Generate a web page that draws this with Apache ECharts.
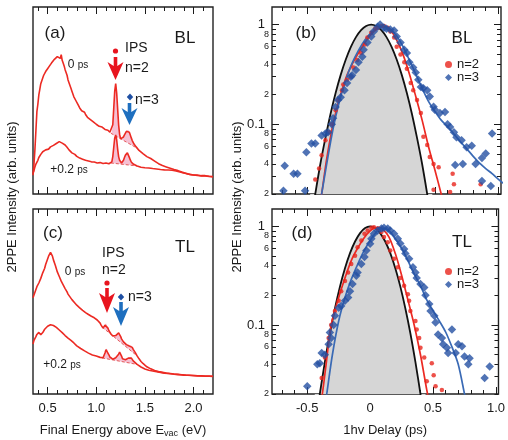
<!DOCTYPE html>
<html><head><meta charset="utf-8">
<script src="https://cdn.jsdelivr.net/npm/echarts@6/dist/echarts.min.js"></script>
<style>html,body{margin:0;padding:0;background:#fff}#c{width:508px;height:440px}</style>
</head><body><div id="c"></div>
<script>
// ---- 2PPE spectra: [final energy above Evac (eV), intensity (arb. units)]
const specBL0 = [[0.35,0.10],[0.36,0.16],[0.37,0.24],[0.38,0.34],[0.39,0.44],[0.40,0.48],[0.41,0.53],[0.42,0.56],[0.43,0.59],[0.44,0.60],[0.45,0.62],[0.46,0.635],[0.47,0.64],[0.48,0.655],[0.49,0.65],[0.50,0.67],[0.51,0.675],[0.52,0.685],[0.53,0.69],[0.54,0.70],[0.55,0.705],[0.56,0.70],[0.57,0.72],[0.58,0.725],[0.59,0.72],[0.60,0.735],[0.61,0.74],[0.62,0.745],[0.63,0.725],[0.64,0.745],[0.65,0.715],[0.66,0.70],[0.67,0.685],[0.68,0.665],[0.69,0.655],[0.70,0.635],[0.71,0.61],[0.72,0.60],[0.73,0.58],[0.74,0.565],[0.75,0.55],[0.76,0.54],[0.77,0.52],[0.78,0.515],[0.79,0.50],[0.80,0.495],[0.81,0.48],[0.82,0.475],[0.83,0.46],[0.84,0.455],[0.85,0.445],[0.86,0.447],[0.87,0.435],[0.88,0.437],[0.89,0.425],[0.90,0.42],[0.91,0.41],[0.92,0.412],[0.93,0.40],[0.94,0.398],[0.95,0.392],[0.96,0.395],[0.97,0.386],[0.98,0.383],[0.99,0.379],[1.00,0.373],[1.01,0.377],[1.02,0.367],[1.03,0.362],[1.04,0.366],[1.05,0.356],[1.06,0.358],[1.07,0.35],[1.08,0.353],[1.09,0.345],[1.10,0.342],[1.11,0.338],[1.12,0.341],[1.13,0.332],[1.14,0.33],[1.15,0.325],[1.16,0.332],[1.17,0.37],[1.18,0.46],[1.19,0.55],[1.20,0.59],[1.21,0.54],[1.22,0.455],[1.23,0.37],[1.24,0.32],[1.25,0.295],[1.26,0.29],[1.27,0.295],[1.28,0.305],[1.29,0.316],[1.30,0.325],[1.31,0.335],[1.32,0.34],[1.33,0.343],[1.34,0.33],[1.35,0.315],[1.36,0.30],[1.37,0.286],[1.38,0.276],[1.39,0.266],[1.40,0.259],[1.41,0.252],[1.42,0.246],[1.44,0.233],[1.46,0.226],[1.48,0.216],[1.50,0.211],[1.52,0.20],[1.54,0.196],[1.56,0.19],[1.58,0.181],[1.60,0.176],[1.62,0.168],[1.64,0.162],[1.66,0.159],[1.68,0.152],[1.70,0.151],[1.72,0.145],[1.74,0.141],[1.76,0.138],[1.78,0.133],[1.80,0.131],[1.82,0.126],[1.84,0.125],[1.86,0.12],[1.88,0.117],[1.90,0.114],[1.92,0.111],[1.94,0.109],[1.96,0.105],[1.98,0.105],[2.00,0.102],[2.02,0.10],[2.04,0.102],[2.06,0.098],[2.08,0.098],[2.10,0.096],[2.12,0.098],[2.14,0.095],[2.16,0.095],[2.18,0.093],[2.20,0.093]];
const specBL2 = [[0.35,0.11],[0.36,0.125],[0.37,0.145],[0.38,0.16],[0.39,0.17],[0.40,0.18],[0.41,0.195],[0.42,0.20],[0.43,0.212],[0.44,0.215],[0.45,0.226],[0.46,0.222],[0.47,0.234],[0.48,0.236],[0.49,0.24],[0.50,0.246],[0.51,0.24],[0.52,0.25],[0.53,0.252],[0.54,0.256],[0.55,0.25],[0.56,0.26],[0.57,0.262],[0.58,0.266],[0.59,0.27],[0.60,0.268],[0.61,0.276],[0.62,0.28],[0.63,0.274],[0.64,0.281],[0.65,0.272],[0.66,0.275],[0.67,0.266],[0.68,0.262],[0.69,0.255],[0.70,0.25],[0.71,0.242],[0.72,0.236],[0.73,0.23],[0.74,0.226],[0.75,0.22],[0.76,0.216],[0.77,0.21],[0.78,0.212],[0.79,0.205],[0.80,0.201],[0.81,0.198],[0.82,0.196],[0.83,0.192],[0.84,0.19],[0.85,0.188],[0.86,0.186],[0.87,0.184],[0.88,0.183],[0.89,0.18],[0.90,0.181],[0.91,0.177],[0.92,0.176],[0.93,0.175],[0.94,0.176],[0.95,0.172],[0.96,0.173],[0.97,0.17],[0.98,0.171],[0.99,0.168],[1.00,0.169],[1.01,0.166],[1.02,0.167],[1.03,0.165],[1.04,0.168],[1.05,0.164],[1.06,0.166],[1.07,0.163],[1.08,0.165],[1.09,0.163],[1.10,0.166],[1.11,0.163],[1.12,0.164],[1.13,0.162],[1.14,0.165],[1.15,0.166],[1.16,0.172],[1.17,0.20],[1.18,0.25],[1.19,0.30],[1.20,0.316],[1.21,0.29],[1.22,0.24],[1.23,0.20],[1.24,0.18],[1.25,0.17],[1.26,0.166],[1.27,0.17],[1.28,0.18],[1.29,0.195],[1.30,0.208],[1.31,0.215],[1.32,0.22],[1.33,0.21],[1.34,0.196],[1.35,0.182],[1.36,0.171],[1.37,0.165],[1.38,0.16],[1.39,0.158],[1.40,0.155],[1.42,0.15],[1.44,0.146],[1.46,0.143],[1.48,0.142],[1.50,0.14],[1.52,0.138],[1.54,0.139],[1.56,0.137],[1.58,0.136],[1.60,0.135],[1.62,0.134],[1.64,0.132],[1.66,0.131],[1.68,0.13],[1.70,0.129],[1.72,0.128],[1.74,0.128],[1.76,0.127],[1.78,0.127],[1.80,0.126],[1.82,0.123],[1.84,0.122],[1.86,0.118],[1.88,0.115],[1.90,0.112],[1.92,0.11],[1.94,0.107],[1.96,0.105],[1.98,0.103],[2.00,0.101],[2.04,0.099],[2.08,0.097],[2.12,0.096],[2.16,0.094],[2.20,0.092]];
const specTL0 = [[0.35,0.52],[0.36,0.53],[0.37,0.55],[0.38,0.555],[0.39,0.58],[0.40,0.585],[0.41,0.60],[0.42,0.605],[0.43,0.625],[0.44,0.635],[0.45,0.655],[0.46,0.665],[0.47,0.68],[0.48,0.70],[0.49,0.71],[0.50,0.73],[0.51,0.745],[0.52,0.75],[0.53,0.765],[0.54,0.755],[0.55,0.745],[0.56,0.725],[0.57,0.715],[0.58,0.695],[0.59,0.685],[0.60,0.66],[0.61,0.655],[0.62,0.635],[0.63,0.625],[0.64,0.61],[0.65,0.60],[0.66,0.59],[0.67,0.58],[0.68,0.57],[0.69,0.56],[0.70,0.552],[0.71,0.54],[0.72,0.537],[0.73,0.525],[0.74,0.522],[0.75,0.51],[0.76,0.507],[0.77,0.50],[0.78,0.492],[0.79,0.49],[0.80,0.48],[0.81,0.478],[0.82,0.47],[0.83,0.466],[0.84,0.46],[0.85,0.458],[0.86,0.452],[0.87,0.448],[0.88,0.445],[0.89,0.44],[0.90,0.438],[0.91,0.432],[0.92,0.43],[0.93,0.425],[0.94,0.424],[0.95,0.42],[0.96,0.418],[0.97,0.413],[0.98,0.412],[0.99,0.408],[1.00,0.406],[1.01,0.40],[1.02,0.397],[1.03,0.39],[1.04,0.383],[1.05,0.372],[1.06,0.362],[1.07,0.356],[1.08,0.362],[1.09,0.372],[1.10,0.382],[1.11,0.372],[1.12,0.356],[1.13,0.342],[1.14,0.333],[1.15,0.326],[1.16,0.32],[1.17,0.314],[1.18,0.312],[1.19,0.312],[1.20,0.316],[1.21,0.32],[1.22,0.326],[1.23,0.33],[1.24,0.327],[1.25,0.312],[1.26,0.298],[1.27,0.288],[1.28,0.282],[1.29,0.277],[1.30,0.272],[1.31,0.267],[1.32,0.263],[1.33,0.26],[1.34,0.259],[1.35,0.26],[1.36,0.262],[1.37,0.252],[1.38,0.241],[1.39,0.232],[1.40,0.225],[1.41,0.215],[1.42,0.206],[1.44,0.19],[1.46,0.176],[1.48,0.165],[1.50,0.155],[1.52,0.147],[1.54,0.14],[1.56,0.136],[1.58,0.13],[1.60,0.127],[1.62,0.123],[1.64,0.121],[1.66,0.118],[1.68,0.117],[1.70,0.113],[1.72,0.113],[1.74,0.11],[1.76,0.111],[1.78,0.107],[1.80,0.108],[1.82,0.105],[1.84,0.106],[1.86,0.103],[1.88,0.104],[1.90,0.101],[1.92,0.102],[1.94,0.10],[1.96,0.101],[1.98,0.099],[2.00,0.10],[2.02,0.098],[2.04,0.099],[2.06,0.097],[2.08,0.098],[2.10,0.096],[2.12,0.097],[2.14,0.096],[2.16,0.097],[2.18,0.095],[2.20,0.096]];
const specTL2 = [[0.35,0.27],[0.36,0.29],[0.37,0.30],[0.38,0.31],[0.39,0.322],[0.40,0.33],[0.41,0.333],[0.42,0.326],[0.43,0.32],[0.44,0.326],[0.45,0.332],[0.46,0.342],[0.47,0.35],[0.48,0.356],[0.49,0.36],[0.50,0.366],[0.51,0.37],[0.52,0.376],[0.53,0.374],[0.54,0.381],[0.55,0.376],[0.56,0.37],[0.57,0.372],[0.58,0.365],[0.59,0.36],[0.60,0.356],[0.61,0.352],[0.62,0.346],[0.63,0.342],[0.64,0.336],[0.65,0.332],[0.66,0.326],[0.67,0.322],[0.68,0.316],[0.69,0.313],[0.70,0.306],[0.71,0.302],[0.72,0.296],[0.73,0.294],[0.74,0.29],[0.75,0.285],[0.76,0.28],[0.77,0.276],[0.78,0.27],[0.79,0.268],[0.80,0.26],[0.82,0.255],[0.84,0.246],[0.86,0.24],[0.88,0.233],[0.90,0.226],[0.92,0.221],[0.94,0.215],[0.96,0.211],[0.98,0.208],[1.00,0.205],[1.02,0.203],[1.04,0.198],[1.06,0.195],[1.07,0.196],[1.08,0.205],[1.09,0.222],[1.10,0.24],[1.11,0.246],[1.12,0.23],[1.13,0.212],[1.14,0.2],[1.15,0.195],[1.16,0.19],[1.17,0.188],[1.18,0.19],[1.19,0.192],[1.20,0.196],[1.21,0.2],[1.22,0.206],[1.23,0.215],[1.24,0.226],[1.25,0.22],[1.26,0.205],[1.27,0.19],[1.28,0.185],[1.29,0.183],[1.30,0.185],[1.31,0.187],[1.32,0.19],[1.33,0.194],[1.34,0.197],[1.35,0.201],[1.36,0.195],[1.37,0.186],[1.38,0.179],[1.39,0.173],[1.40,0.169],[1.42,0.16],[1.44,0.152],[1.46,0.146],[1.48,0.14],[1.50,0.135],[1.52,0.131],[1.54,0.128],[1.56,0.126],[1.58,0.124],[1.60,0.122],[1.62,0.12],[1.64,0.119],[1.66,0.117],[1.68,0.116],[1.70,0.113],[1.72,0.112],[1.74,0.111],[1.76,0.109],[1.78,0.108],[1.80,0.107],[1.82,0.106],[1.84,0.104],[1.86,0.104],[1.88,0.102],[1.90,0.102],[1.92,0.10],[1.94,0.101],[1.96,0.099],[1.98,0.1],[2.00,0.098],[2.04,0.098],[2.08,0.097],[2.12,0.096],[2.16,0.096],[2.20,0.095]];

// IPS peak areas above a linear background: [E start, E end, background at start, background at end]
const peakBaseBL0 = [1.15, 1.42, 0.325, 0.245];
const peakBaseBL2 = [1.15, 1.42, 0.166, 0.150];
const peakBaseTL0 = [1.06, 1.42, 0.362, 0.206];
const peakBaseTL2 = [1.06, 1.42, 0.195, 0.160];

// ---- cross-correlation traces: [1hv delay (ps), normalised 2PPE intensity]
const xcorrBL = [[-0.48,0.0096],[-0.44,0.020],[-0.40,0.040],[-0.36,0.073],[-0.32,0.127],[-0.28,0.206],[-0.24,0.313],[-0.20,0.446],[-0.16,0.597],[-0.12,0.748],[-0.08,0.879],[-0.04,0.968],[0,1.0],[0.04,0.968],[0.08,0.879],[0.12,0.748],[0.16,0.597],[0.20,0.446],[0.24,0.313],[0.28,0.206],[0.32,0.127],[0.36,0.073],[0.40,0.040],[0.44,0.020],[0.48,0.0096]];
const fitBL2 = [[-0.42,0.012],[-0.39,0.02],[-0.35,0.045],[-0.30,0.10],[-0.25,0.18],[-0.20,0.29],[-0.15,0.40],[-0.10,0.52],[-0.05,0.66],[0,0.80],[0.05,0.92],[0.08,0.96],[0.12,0.95],[0.16,0.85],[0.20,0.70],[0.25,0.50],[0.30,0.32],[0.35,0.19],[0.40,0.11],[0.45,0.06],[0.50,0.035],[0.55,0.02],[0.58,0.014]];
const fitBL3 = [[-0.42,0.012],[-0.39,0.02],[-0.35,0.04],[-0.30,0.09],[-0.25,0.17],[-0.20,0.28],[-0.15,0.41],[-0.10,0.55],[-0.05,0.70],[0,0.83],[0.05,0.93],[0.08,0.96],[0.12,0.95],[0.16,0.88],[0.20,0.77],[0.25,0.60],[0.30,0.44],[0.35,0.32],[0.40,0.23],[0.45,0.17],[0.50,0.135],[0.55,0.11],[0.60,0.095],[0.65,0.08],[0.70,0.067],[0.75,0.057],[0.80,0.048],[0.85,0.041],[0.90,0.036],[0.95,0.032],[1.00,0.028],[1.05,0.025]];
const ptsBL2 = [[-0.44,0.028],[-0.41,0.036],[-0.39,0.049],[-0.36,0.069],[-0.33,0.083],[-0.31,0.10],[-0.28,0.138],[-0.26,0.175],[-0.23,0.22],[-0.22,0.25],[-0.19,0.28],[-0.16,0.30],[-0.14,0.37],[-0.11,0.44],[-0.08,0.52],[-0.05,0.63],[-0.03,0.74],[0,0.83],[0.03,0.90],[0.05,0.93],[0.08,0.97],[0.10,0.97],[0.13,0.93],[0.15,0.85],[0.18,0.74],[0.20,0.60],[0.23,0.50],[0.26,0.42],[0.28,0.36],[0.31,0.26],[0.33,0.22],[0.36,0.175],[0.39,0.13],[0.41,0.075],[0.44,0.062],[0.46,0.047],[0.49,0.040],[0.53,0.037],[0.49,0.022],[0.64,0.032],[0.65,0.025],[0.62,0.021],[0.86,0.025]];
const ptsBL3 = [[-0.69,0.0216],[-0.68,0.0385],[-0.61,0.032],[-0.58,0.032],[-0.52,0.0216],[-0.51,0.0525],[-0.47,0.064],[-0.44,0.064],[-0.39,0.077],[-0.36,0.081],[-0.34,0.083],[-0.31,0.10],[-0.30,0.115],[-0.28,0.149],[-0.26,0.175],[-0.24,0.187],[-0.21,0.22],[-0.19,0.26],[-0.16,0.30],[-0.15,0.31],[-0.12,0.35],[-0.10,0.42],[-0.07,0.475],[-0.06,0.56],[-0.03,0.66],[0,0.76],[0.02,0.85],[0.05,0.95],[0.07,1.0],[0.10,0.93],[0.12,0.91],[0.15,0.89],[0.18,0.87],[0.20,0.76],[0.23,0.66],[0.26,0.56],[0.28,0.52],[0.30,0.42],[0.33,0.37],[0.35,0.33],[0.37,0.28],[0.39,0.236],[0.41,0.23],[0.44,0.22],[0.46,0.19],[0.49,0.15],[0.50,0.14],[0.54,0.13],[0.58,0.133],[0.60,0.10],[0.62,0.094],[0.65,0.083],[0.67,0.074],[0.71,0.069],[0.75,0.059],[0.66,0.039],[0.72,0.040],[0.79,0.061],[0.82,0.040],[0.87,0.046],[0.90,0.051],[0.95,0.081],[0.87,0.027],[0.94,0.024]];

const xcorrTL = [[-0.44,0.0088],[-0.40,0.020],[-0.36,0.042],[-0.32,0.082],[-0.28,0.147],[-0.24,0.245],[-0.20,0.376],[-0.16,0.535],[-0.12,0.703],[-0.08,0.855],[-0.04,0.962],[0,1.0],[0.04,0.962],[0.08,0.855],[0.12,0.703],[0.16,0.535],[0.20,0.376],[0.24,0.245],[0.28,0.147],[0.32,0.082],[0.36,0.042],[0.40,0.020],[0.44,0.0088]];
const fitTL2 = [[-0.41,0.012],[-0.38,0.02],[-0.35,0.04],[-0.31,0.10],[-0.25,0.19],[-0.20,0.30],[-0.15,0.45],[-0.10,0.60],[-0.05,0.76],[0,0.90],[0.04,0.97],[0.07,0.98],[0.10,0.94],[0.15,0.78],[0.20,0.53],[0.25,0.32],[0.30,0.18],[0.35,0.10],[0.40,0.05],[0.45,0.022],[0.48,0.014]];
const fitTL3 = [[-0.37,0.012],[-0.345,0.02],[-0.30,0.05],[-0.25,0.11],[-0.20,0.19],[-0.15,0.29],[-0.10,0.41],[-0.05,0.56],[0,0.72],[0.05,0.88],[0.08,0.94],[0.12,0.95],[0.16,0.88],[0.20,0.75],[0.25,0.60],[0.30,0.45],[0.35,0.33],[0.40,0.25],[0.45,0.18],[0.50,0.14],[0.55,0.11],[0.60,0.085],[0.65,0.06],[0.70,0.04],[0.75,0.02],[0.78,0.013]];
const ptsTL2 = [[-0.385,0.029],[-0.36,0.047],[-0.33,0.074],[-0.31,0.10],[-0.28,0.139],[-0.25,0.176],[-0.23,0.22],[-0.20,0.28],[-0.175,0.34],[-0.15,0.415],[-0.12,0.505],[-0.10,0.615],[-0.07,0.72],[-0.045,0.84],[-0.02,0.91],[0.01,0.97],[0.03,0.98],[0.06,0.95],[0.09,0.875],[0.11,0.78],[0.14,0.69],[0.16,0.57],[0.19,0.47],[0.22,0.385],[0.24,0.30],[0.27,0.25],[0.30,0.205],[0.31,0.176],[0.32,0.139],[0.36,0.11],[0.37,0.09],[0.39,0.074],[0.40,0.059],[0.43,0.047],[0.49,0.041],[0.505,0.031],[0.45,0.027],[0.52,0.024],[0.57,0.022]];
const ptsTL3 = [[-0.50,0.024],[-0.42,0.040],[-0.40,0.041],[-0.385,0.052],[-0.36,0.050],[-0.33,0.064],[-0.32,0.084],[-0.31,0.074],[-0.29,0.10],[-0.28,0.124],[-0.25,0.15],[-0.23,0.156],[-0.20,0.176],[-0.175,0.19],[-0.16,0.22],[-0.14,0.26],[-0.11,0.316],[-0.10,0.34],[-0.07,0.415],[-0.045,0.49],[-0.03,0.57],[0,0.665],[0.01,0.75],[0.03,0.84],[0.06,0.91],[0.09,0.95],[0.11,0.97],[0.14,0.95],[0.16,0.91],[0.19,0.84],[0.22,0.75],[0.24,0.67],[0.27,0.59],[0.28,0.53],[0.31,0.47],[0.34,0.385],[0.36,0.34],[0.37,0.30],[0.40,0.26],[0.43,0.24],[0.44,0.20],[0.47,0.163],[0.48,0.139],[0.51,0.124],[0.52,0.106],[0.54,0.080],[0.57,0.074],[0.58,0.064],[0.61,0.059],[0.65,0.090],[0.62,0.052],[0.68,0.052],[0.70,0.064],[0.73,0.061],[0.75,0.048],[0.78,0.040],[0.79,0.046],[0.91,0.029],[0.95,0.038]];

// ---- ticks and labels
const energyTicks = [0.4,0.5,0.6,0.7,0.8,0.9,1.0,1.1,1.2,1.3,1.4,1.5,1.6,1.7,1.8,1.9,2.0,2.1];
const energyMajor = [0.5,1.0,1.5,2.0];
const delayTicks = [-0.7,-0.6,-0.5,-0.4,-0.3,-0.2,-0.1,0,0.1,0.2,0.3,0.4,0.5,0.6,0.7,0.8,0.9,1.0];
const delayMajor = [-0.5,0,0.5,1.0];
const logMajor = [0.1,1];
const logMinor = [0.02,0.03,0.04,0.05,0.06,0.07,0.08,0.09,0.2,0.3,0.4,0.5,0.6,0.7,0.8,0.9];
const logMinorLabels = [0.02,0.04,0.06,0.08,0.2,0.4,0.6,0.8];

const FF = '"Liberation Sans", Arial, Helvetica, sans-serif';
const INK = '#1a1a1a';
const RED = '#ec2a23';
const RED_PT = '#e8251d';
const BLUE_PT = '#2450a2';
const BLUE_LN = '#3a6ab5';
const PINK = 'rgba(240,150,182,0.6)';

const grids = [
  {left: 33, top: 7, width: 180, height: 187},   // (a)
  {left: 272, top: 7, width: 229, height: 187},  // (b)
  {left: 33, top: 209, width: 180, height: 185}, // (c)
  {left: 272, top: 209, width: 229, height: 185} // (d)
].map(g => Object.assign({show: true, borderColor: '#222', borderWidth: 1.4, backgroundColor: 'transparent'}, g));

// four x axes per panel: minor/major ticks on bottom and on top
function xAxesFor(gi, min, max, ticks, major, fmt, name) {
  const base = {type: 'value', gridIndex: gi, min, max, axisLine: {show: false, onZero: false}, splitLine: {show: false}};
  const out = [];
  ['bottom', 'top'].forEach(pos => {
    out.push(Object.assign({}, base, {position: pos,
      axisTick: {show: true, inside: true, length: 4, customValues: ticks, lineStyle: {color: INK, width: 1}},
      axisLabel: {show: false}}));
    const lab = (pos === 'bottom' && fmt) ? {show: true, customValues: major, formatter: fmt, fontSize: 13, color: INK, fontFamily: FF, margin: 8} : {show: false};
    const ax = Object.assign({}, base, {position: pos,
      axisTick: {show: true, inside: true, length: 7, customValues: major, lineStyle: {color: INK, width: 1}},
      axisLabel: lab});
    if (pos === 'bottom' && name) {
      Object.assign(ax, {name, nameLocation: 'middle', nameGap: 28,
        nameTextStyle: {fontSize: 13, color: INK, fontFamily: FF, lineHeight: 16,
          rich: {s: {fontSize: 9, color: INK, fontFamily: FF, verticalAlign: 'bottom', lineHeight: 9}}}});
    }
    out.push(ax);
  });
  return out;
}
function logAxesFor(gi) {
  const base = {type: 'log', logBase: 10, gridIndex: gi, min: 0.02, max: 1.5, axisLine: {show: false, onZero: false}, splitLine: {show: false}};
  const minorFmt = v => String(Math.round(v / Math.pow(10, Math.floor(Math.log10(v) + 1e-9))));
  const majorFmt = v => (v > 0.5 ? '1' : '0.1');
  const out = [];
  ['left', 'right'].forEach(pos => {
    out.push(Object.assign({}, base, {position: pos,
      axisTick: {show: true, inside: true, length: 4, customValues: logMinor, lineStyle: {color: INK}},
      axisLabel: pos === 'left' ? {show: true, customValues: logMinorLabels, formatter: minorFmt, fontSize: 9, color: INK, fontFamily: FF, margin: 3} : {show: false}}));
    out.push(Object.assign({}, base, {position: pos,
      axisTick: {show: true, inside: true, length: 7, customValues: logMajor, lineStyle: {color: INK}},
      axisLabel: pos === 'left' ? {show: true, customValues: logMajor, formatter: majorFmt, fontSize: 13, color: INK, fontFamily: FF, margin: 7} : {show: false}}));
  });
  return out;
}

const xAxis = [].concat(
  xAxesFor(0, 0.35, 2.2, energyTicks, energyMajor, null, null),
  xAxesFor(1, -0.78, 1.02, delayTicks, delayMajor, null, null),
  xAxesFor(2, 0.35, 2.2, energyTicks, energyMajor, v => v.toFixed(1), 'Final Energy above E{s|vac} (eV)'),
  xAxesFor(3, -0.78, 1.02, delayTicks, delayMajor, v => (Math.abs(v) < 1e-9 ? '0' : v.toFixed(1)), '1hv Delay (ps)')
);
const yAxis = [].concat(
  [{type: 'value', gridIndex: 0, min: 0, max: 1, show: false}],
  logAxesFor(1),
  [{type: 'value', gridIndex: 2, min: 0, max: 1, show: false}],
  logAxesFor(3)
);
const AX = {a: {x: 0, y: 0}, b: {x: 4, y: 1}, c: {x: 8, y: 5}, d: {x: 12, y: 6}};

function spectrum(data, ax) {
  return {type: 'line', xAxisIndex: ax.x, yAxisIndex: ax.y, data, showSymbol: false, z: 3,
    lineStyle: {color: RED, width: 1.6}, silent: true};
}
function peakFill(curve, base, ax) {
  const [e0, e1, b0, b1] = base;
  const seg = curve.filter(p => p[0] >= e0 - 1e-9 && p[0] <= e1 + 1e-9);
  return {type: 'custom', xAxisIndex: ax.x, yAxisIndex: ax.y, data: [[e0, b0]], silent: true, z: 1,
    renderItem: (params, api) => {
      const pts = seg.map(p => api.coord(p));
      pts.push(api.coord([e1, b1]), api.coord([e0, b0]));
      return {type: 'polygon', shape: {points: pts}, style: {fill: PINK}};
    }};
}
function baseline(base, ax) {
  const [e0, e1, b0, b1] = base;
  return {type: 'line', xAxisIndex: ax.x, yAxisIndex: ax.y, data: [[e0, b0], [e1, b1]], showSymbol: false, z: 2, silent: true,
    lineStyle: {color: '#e45a5a', width: 1, type: [3, 2]}};
}
function xcorr(data, ax) {
  return {type: 'line', xAxisIndex: ax.x, yAxisIndex: ax.y, data, smooth: 0.3, showSymbol: false, z: 1, silent: true,
    lineStyle: {color: '#111', width: 1.8}, areaStyle: {color: '#d6d6d6', opacity: 1, origin: 'start'}};
}
function fit(data, color, ax) {
  return {type: 'line', xAxisIndex: ax.x, yAxisIndex: ax.y, data, smooth: 0.3, showSymbol: false, z: 3, silent: true,
    lineStyle: {color, width: 1.7}};
}
function points(name, data, ax, symbol, size, color, z) {
  return {type: 'scatter', name, xAxisIndex: ax.x, yAxisIndex: ax.y, data, symbol, symbolSize: size, z, silent: true,
    itemStyle: {color}};
}

const series = [
  peakFill(specBL0, peakBaseBL0, AX.a), peakFill(specBL2, peakBaseBL2, AX.a),
  baseline(peakBaseBL0, AX.a), baseline(peakBaseBL2, AX.a),
  spectrum(specBL0, AX.a), spectrum(specBL2, AX.a),
  peakFill(specTL0, peakBaseTL0, AX.c), peakFill(specTL2, peakBaseTL2, AX.c),
  baseline(peakBaseTL0, AX.c), baseline(peakBaseTL2, AX.c),
  spectrum(specTL0, AX.c), spectrum(specTL2, AX.c),
  xcorr(xcorrBL, AX.b), fit(fitBL2, RED, AX.b), fit(fitBL3, BLUE_LN, AX.b),
  points('n=2', ptsBL2, AX.b, 'circle', 4.5, RED_PT, 4), points('n=3', ptsBL3, AX.b, 'diamond', 8.5, BLUE_PT, 5),
  xcorr(xcorrTL, AX.d), fit(fitTL2, RED, AX.d), fit(fitTL3, BLUE_LN, AX.d),
  points('n=2', ptsTL2, AX.d, 'circle', 4.5, RED_PT, 4), points('n=3', ptsTL3, AX.d, 'diamond', 8.5, BLUE_PT, 5)
];

const legendBase = {orient: 'vertical', left: 440, itemGap: 0, itemWidth: 7, itemHeight: 7, selectedMode: false,
  textStyle: {fontSize: 13, color: INK, fontFamily: FF},
  data: [{name: 'n=2', icon: 'circle'}, {name: 'n=3', icon: 'diamond'}]};
const legend = [Object.assign({top: 53}, legendBase), Object.assign({top: 260}, legendBase)];

// annotation helpers
function txt(x, y, text, size, align, extra) {
  return {type: 'text', x, y, silent: true, z: 20, style: Object.assign({text, fontSize: size, fontFamily: FF, fill: INK,
    align: align || 'center', verticalAlign: 'middle'}, extra || {})};
}
function psLabel(x, y, t) {
  return txt(x, y, '{n|' + t + '} {u|ps}', 12, 'center', {rich: {n: {fontSize: 12, fontFamily: FF, fill: INK}, u: {fontSize: 10, fontFamily: FF, fill: INK}}});
}
function arrow(cx, top, tip, color) {
  const s = 1.8, h = 8;
  return {type: 'polygon', silent: true, z: 20, shape: {points: [
    [cx - s, top], [cx + s, top], [cx + s, top + 9], [cx + h, top + 5], [cx, tip], [cx - h, top + 5], [cx - s, top + 9]]},
    style: {fill: color}};
}
function dot(cx, cy) { return {type: 'circle', silent: true, z: 20, shape: {cx, cy, r: 2.6}, style: {fill: '#e8141e'}}; }
function diamond(cx, cy) {
  return {type: 'polygon', silent: true, z: 20, shape: {points: [[cx, cy - 3.6], [cx + 3.2, cy], [cx, cy + 3.6], [cx - 3.2, cy]]}, style: {fill: '#1e4fa3'}};
}

const graphic = [
  txt(55, 33, '(a)', 17), txt(185, 38, 'BL', 17), psLabel(78, 65, '0'), psLabel(69, 170, '+0.2'),
  txt(125, 48, 'IPS', 14, 'left'), txt(125, 68, 'n=2', 14, 'left'), txt(135, 100, 'n=3', 14, 'left'),
  dot(115.5, 51), arrow(115.5, 57, 80, '#e8141e'), diamond(130, 97), arrow(129.5, 103, 125, '#1e6fbf'),
  txt(53, 233, '(c)', 17), txt(185, 247, 'TL', 17), psLabel(75, 272, '0'), psLabel(62, 365, '+0.2'),
  txt(102, 253, 'IPS', 14, 'left'), txt(102, 270, 'n=2', 14, 'left'), txt(128, 297, 'n=3', 14, 'left'),
  dot(107, 283), arrow(107, 288, 313, '#e8141e'), diamond(121, 297), arrow(121, 302, 326, '#1e6fbf'),
  txt(306, 33, '(b)', 17), txt(462, 38, 'BL', 17),
  txt(302, 233, '(d)', 17), txt(462, 242, 'TL', 17),
  Object.assign(txt(12, 197, '2PPE Intensity (arb. units)', 13), {rotation: Math.PI / 2}),
  Object.assign(txt(237, 197, '2PPE Intensity (arb. units)', 13), {rotation: Math.PI / 2})
];

const chart = echarts.init(document.getElementById('c'), null, {renderer: 'canvas'});
chart.setOption({animation: false, backgroundColor: '#fff', grid: grids, xAxis, yAxis, series, legend, graphic});
</script>
</body></html>
